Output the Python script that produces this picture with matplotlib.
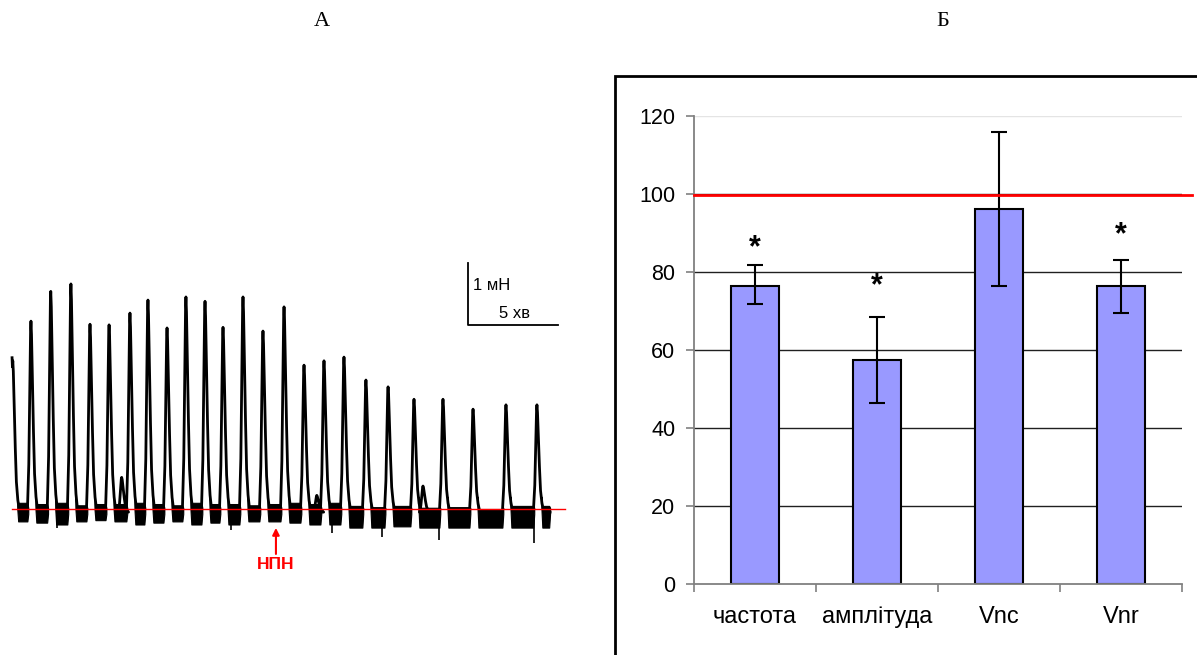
import matplotlib.pyplot as plt
import numpy as np
from matplotlib.patches import Rectangle

plt.rcParams['font.family'] = ['Liberation Sans', 'DejaVu Sans']

# --- panel A: contraction record (time in min, force in mN above baseline)
peak_t = [0.71, 1.72, 2.82, 3.94, 5.00, 6.06, 7.22, 8.22, 9.28, 10.33, 11.39, 12.39, 13.50,
          14.61, 15.78, 16.89, 18.00, 19.11, 20.33, 21.56, 23.00, 24.61, 26.28, 28.11, 29.83]
peak_h = [2.44, 3.08, 3.56, 3.68, 3.03, 3.02, 3.21, 3.42, 2.97, 3.47, 3.40, 2.98, 3.47,
          2.92, 3.31, 2.37, 2.44, 2.50, 2.13, 2.02, 1.82, 1.82, 1.66, 1.73, 1.73]
bump_t = [6.76, 17.60, 23.50]
bump_h = [0.56, 0.27, 0.42]
# noise band between contractions (low / high edge, mN)
gap_low = [-0.20, -0.22, -0.25, -0.20, -0.18, -0.20, -0.25, -0.22, -0.20, -0.25, -0.22, -0.25,
           -0.20, -0.20, -0.22, -0.25, -0.25, -0.30, -0.30, -0.28, -0.30, -0.30, -0.30, -0.30]
gap_high = [0.10, 0.08, 0.10, 0.06, 0.08, 0.08, 0.10, 0.08, 0.06, 0.10, 0.08, 0.08,
            0.06, 0.08, 0.10, 0.08, 0.10, 0.05, 0.03, 0.05, 0.02, 0.03, 0.00, 0.05]
spike_t = [3.15, 12.82, 18.43, 21.20, 24.39, 29.67]
spike_y = [-0.31, -0.34, -0.39, -0.45, -0.50, -0.55]
trace_start, trace_end = 0.67, 30.56
npn_t = 15.33

# pulse outline: offset from peak (min), fraction of peak height
pulse_dt = [-0.2, -0.12, -0.06, -0.02, 0.0, 0.03, 0.08, 0.14, 0.2, 0.28, 0.38]
pulse_f = [0.0, 0.25, 0.7, 0.96, 1.0, 0.93, 0.7, 0.42, 0.2, 0.08, 0.0]

# --- panel B: % of control
categories = ['частота', 'амплітуда', 'Vnc', 'Vnr']
values = [76.4, 57.3, 96.0, 76.4]
err_low = [71.7, 46.3, 76.4, 69.3]
err_high = [81.7, 68.3, 115.7, 83.1]
star_idx = [0, 1, 3]
star_y = [86.0, 76.2, 89.4]
control = 99.6

fig = plt.figure(figsize=(11.97, 6.55), dpi=100)

# ---------------- panel A
axA = fig.add_axes([0, 1 - 600 / 655, 600 / 1197, 360 / 655])
axA.set_xlim(0, 600 / 18)
axA.set_ylim((509 - 600) / 62, (509 - 240) / 62)
axA.axis('off')

xs, ys = [], []
events = sorted(zip(peak_t + bump_t, peak_h + bump_h))
for t, h in events:
    for dt, f in zip(pulse_dt, pulse_f):
        if trace_start <= t + dt <= trace_end:
            xs.append(t + dt)
            ys.append(h * f - 0.05)
xs = [trace_start] + xs + [trace_end]
ys = [peak_h[0]] + ys + [-0.05]
axA.plot(xs, ys, color='black', lw=2, solid_joinstyle='round')

for i in range(len(peak_t)):
    x0 = peak_t[i] + 0.25
    x1 = peak_t[i + 1] - 0.15 if i + 1 < len(peak_t) else trace_end
    j = min(i, len(gap_low) - 1)
    bx = [x0, x0 + 0.05, x1 - 0.05, x1]
    axA.fill_between(bx, [0.0, gap_low[j], gap_low[j], -0.08],
                     [0.2, gap_high[j], gap_high[j], 0.02], color='black', lw=0.8)
axA.vlines(spike_t, -0.1, spike_y, color='black', lw=1.2)

axA.plot([trace_start, 565 / 18], [0, 0], color='red', lw=1)

# scale bar
axA.plot([26.0, 26.0, 31.0], [3.97, 2.97, 2.97], color='black', lw=1.3)
axA.text(26.28, 3.60, '1 мН', fontsize=12, va='center', ha='left')
axA.text(28.6, 3.16, '5 хв', fontsize=12, va='center', ha='center')

axA.annotate('', xy=(npn_t, -0.26), xytext=(npn_t, -0.77),
             arrowprops=dict(arrowstyle='-|>', color='red', lw=1.5, mutation_scale=10))
axA.text(npn_t, -0.90, 'НПН', color='red', fontsize=12.5, fontweight='bold',
         ha='center', va='center')

# ---------------- panel B
fig.patches.append(Rectangle((615 / 1197, -0.05), 0.6, 1 - 76 / 655 + 0.05,
                             transform=fig.transFigure, fill=False, ec='black', lw=2))

axB = fig.add_axes([694 / 1197, 1 - 583.7 / 655, 488 / 1197, 468 / 655])
xpos = np.arange(len(categories))
axB.set_xlim(-0.5, len(categories) - 0.5)
axB.set_ylim(0, 120)
axB.set_yticks([0, 20, 40, 60, 80, 100, 120])
for g in [20, 40, 60, 80, 100]:
    axB.axhline(g, color='#202020', lw=1, zorder=0)
axB.axhline(120, color='#e4e4e4', lw=1, zorder=0)

err = [np.array(values) - np.array(err_low), np.array(err_high) - np.array(values)]
axB.bar(xpos, values, width=0.4, color='#9999ff', edgecolor='black', lw=1.5, zorder=2)
axB.errorbar(xpos, values, yerr=err, fmt='none', ecolor='black', elinewidth=1.5,
             capsize=5.5, capthick=1.5, zorder=3)
axB.plot([-0.5, 3.58], [control, control], color='red', lw=2, zorder=4, clip_on=False)
for i, y in zip(star_idx, star_y):
    axB.text(xpos[i], y, '*', fontsize=22, fontweight='bold', ha='center', va='center', zorder=5)

for s in ['top', 'right']:
    axB.spines[s].set_visible(False)
for s in ['left', 'bottom']:
    axB.spines[s].set_color('#808080')
    axB.spines[s].set_linewidth(1.3)
axB.tick_params(axis='y', direction='out', length=5.5, width=1.2, color='#808080',
                labelsize=15.5, pad=8)
axB.set_xticks(xpos)
axB.set_xticklabels(categories, fontsize=17)
axB.set_xticks(np.arange(-0.5, len(categories)), minor=True)
axB.tick_params(axis='x', which='major', length=0, pad=16)
axB.tick_params(axis='x', which='minor', direction='out', length=5.5, width=1.2, color='#808080')

fig.text(322 / 1197, 1 - 22 / 655, 'А', fontsize=16, family='Liberation Serif', ha='center', va='center')
fig.text(943 / 1197, 1 - 22 / 655, 'Б', fontsize=16, family='Liberation Serif', ha='center', va='center')

fig.savefig('out.png', dpi=100)
